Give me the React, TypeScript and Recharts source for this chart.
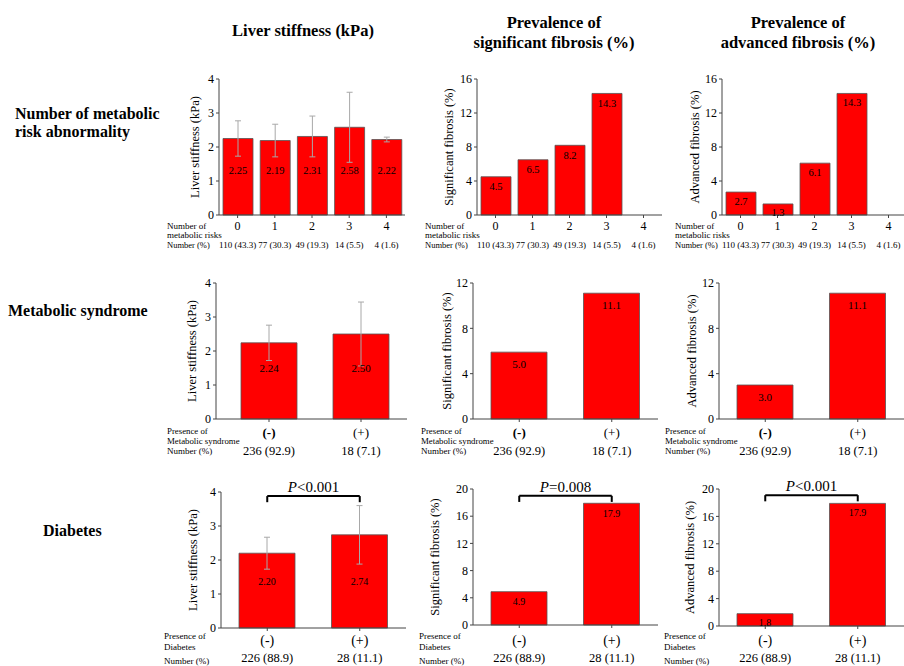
import { BarChart, Bar, XAxis, YAxis, ErrorBar, LabelList, ReferenceLine } from "recharts";

const FONT = "Liberation Serif, DejaVu Serif, Times New Roman, serif";

// Number of metabolic risk abnormality
const riskCats = ["0", "1", "2", "3", "4"];
const riskCounts = ["110 (43.3)", "77 (30.3)", "49 (19.3)", "14 (5.5)", "4 (1.6)"];
const riskStiffness = [2.25, 2.19, 2.31, 2.58, 2.22];
const riskStiffnessSd = [0.52, 0.48, 0.6, 1.03, 0.07];
const riskSigFibrosis = [4.5, 6.5, 8.2, 14.3, 0];
const riskAdvFibrosis = [2.7, 1.3, 6.1, 14.3, 0];

// Metabolic syndrome
const msCats = ["(-)", "(+)"];
const msCounts = ["236 (92.9)", "18 (7.1)"];
const msStiffness = [2.24, 2.5];
const msStiffnessSd = [0.52, 0.94];
const msSigFibrosis = [5.9, 11.1];
const msSigFibrosisText = ["5.0", "11.1"];
const msAdvFibrosis = [3.0, 11.1];

// Diabetes
const dmCats = ["(-)", "(+)"];
const dmCounts = ["226 (88.9)", "28 (11.1)"];
const dmStiffness = [2.2, 2.74];
const dmStiffnessSd = [0.47, 0.86];
const dmSigFibrosis = [4.9, 17.9];
const dmAdvFibrosis = [1.8, 17.9];
const dmPValues = ["<0.001", "=0.008", "<0.001"];

type Row = { cat: string; count: string; value: number; sd?: number; text: string };

function buildRows(cats: string[], counts: string[], values: number[], digits: number, sd?: number[], text?: string[]): Row[] {
  return cats.map((c, i) => ({
    cat: c,
    count: counts[i],
    value: values[i],
    sd: sd ? sd[i] : undefined,
    text: text ? text[i] : values[i] === 0 ? "" : values[i].toFixed(digits),
  }));
}

const YW = 60;
const MT = 30;
const XH = 48;

function CatTick(props: any) {
  const { x, y, payload, rows, catSize, countSize, catDy, countDy, boldMinus } = props;
  const row = rows.find((r: Row) => r.cat === payload.value);
  const axisY = y - 3;
  return (
    <g>
      <text x={x} y={axisY + catDy} textAnchor="middle" dominantBaseline="central" fontSize={catSize} fill="#000" fontFamily={FONT}
        fontWeight={boldMinus && payload.value === "(-)" ? "bold" : "normal"}>
        {payload.value}
      </text>
      <text x={x} y={axisY + countDy} textAnchor="middle" dominantBaseline="central" fontSize={countSize} fill="#000" fontFamily={FONT}>
        {row ? row.count : ""}
      </text>
    </g>
  );
}

type PanelProps = {
  rows: Row[];
  axisX: number;
  axisEnd: number;
  top: number;
  zero: number;
  max: number;
  ticks: number[];
  yTitle: string;
  titleGap: number;
  barSize: number;
  padLeft?: number;
  mode: "mid" | "top";
  labelGap: number;
  valueSize: number;
  catSize: number;
  countSize: number;
  catY: number;
  countY: number;
  boldMinus?: boolean;
  bracket?: { y: number; leg: number; p: string };
};

function Panel(p: PanelProps) {
  const plotH = p.zero - p.top;
  const width = p.axisEnd - p.axisX + YW + 1;
  const height = plotH + MT + XH;
  const valueLabel = (lp: any) => {
    const vb = lp.viewBox || lp;
    const r = p.rows[lp.index];
    const text = r ? r.text : String(lp.value);
    if (!text) return null;
    const ty = p.mode === "mid" ? vb.y + vb.height - p.labelGap : vb.y + p.labelGap;
    return (
      <text x={vb.x + vb.width / 2} y={ty} textAnchor="middle" dominantBaseline="central" fontSize={p.valueSize} fill="#000" fontFamily={FONT}>
        {text}
      </text>
    );
  };
  const titleX = YW - p.titleGap;
  const titleY = MT + plotH / 2;
  return (
    <div style={{ position: "absolute", left: p.axisX - YW, top: p.top - MT }}>
      <BarChart width={width} height={height} data={p.rows} margin={{ top: MT, right: 1, left: 0, bottom: 0 }} barSize={p.barSize}>
        <XAxis
          dataKey="cat"
          type="category"
          interval={0}
          height={XH}
          tickSize={3}
          tickMargin={0}
          padding={{ left: p.padLeft || 0, right: 0 }}
          axisLine={{ stroke: "#444" }}
          tickLine={{ stroke: "#444" }}
          tick={<CatTick rows={p.rows} catSize={p.catSize} countSize={p.countSize} catDy={p.catY - p.zero} countDy={p.countY - p.zero} boldMinus={p.boldMinus} />}
        />
        <YAxis
          type="number"
          domain={[0, p.max]}
          ticks={p.ticks}
          interval={0}
          width={YW}
          tickSize={3}
          tickMargin={2}
          axisLine={{ stroke: "#444" }}
          tickLine={{ stroke: "#444" }}
          tick={{ fontSize: 12, fill: "#000", fontFamily: FONT }}
          label={{
            content: () => (
              <text x={titleX} y={titleY} transform={`rotate(-90 ${titleX} ${titleY})`} textAnchor="middle" dominantBaseline="central" fontSize={12.5} fill="#000" fontFamily={FONT}>
                {p.yTitle}
              </text>
            ),
          }}
        />
        <Bar dataKey="value" fill="#FF0000" stroke="#555" strokeWidth={0.8} isAnimationActive={false}>
          {p.rows[0].sd !== undefined && <ErrorBar dataKey="sd" width={3} stroke="#a8a8a8" strokeWidth={1} />}
          <LabelList dataKey="value" content={valueLabel} />
        </Bar>
        {p.bracket && (
          <ReferenceLine
            segment={[{ x: p.rows[0].cat, y: p.bracket.y }, { x: p.rows[1].cat, y: p.bracket.y }]}
            stroke="#000"
            strokeWidth={2}
            ifOverflow="visible"
            label={{
              content: (lp: any) => {
                const vb = lp.viewBox || { x: 0, y: 0, width: 0 };
                return (
                  <text x={vb.x + vb.width / 2} y={vb.y - 9} textAnchor="middle" dominantBaseline="central" fontSize={15} fill="#000" fontFamily={FONT}>
                    <tspan fontStyle="italic">P</tspan>
                    {p.bracket!.p}
                  </text>
                );
              },
            }}
          />
        )}
        {p.bracket && (
          <ReferenceLine segment={[{ x: p.rows[0].cat, y: p.bracket.y }, { x: p.rows[0].cat, y: p.bracket.leg }]} stroke="#000" strokeWidth={2} ifOverflow="visible" />
        )}
        {p.bracket && (
          <ReferenceLine segment={[{ x: p.rows[1].cat, y: p.bracket.y }, { x: p.rows[1].cat, y: p.bracket.leg }]} stroke="#000" strokeWidth={2} ifOverflow="visible" />
        )}
      </BarChart>
    </div>
  );
}

const riskRows = {
  stiff: buildRows(riskCats, riskCounts, riskStiffness, 2, riskStiffnessSd),
  sig: buildRows(riskCats, riskCounts, riskSigFibrosis, 1),
  adv: buildRows(riskCats, riskCounts, riskAdvFibrosis, 1),
};
const msRows = {
  stiff: buildRows(msCats, msCounts, msStiffness, 2, msStiffnessSd),
  sig: buildRows(msCats, msCounts, msSigFibrosis, 1, undefined, msSigFibrosisText),
  adv: buildRows(msCats, msCounts, msAdvFibrosis, 1),
};
const dmRows = {
  stiff: buildRows(dmCats, dmCounts, dmStiffness, 2, dmStiffnessSd),
  sig: buildRows(dmCats, dmCounts, dmSigFibrosis, 1),
  adv: buildRows(dmCats, dmCounts, dmAdvFibrosis, 1),
};

const row1 = { top: 79, zero: 215, catSize: 12, countSize: 9, catY: 226, countY: 245, barSize: 30, valueSize: 10.5 };
const row2 = { top: 283, zero: 419, catSize: 13, countSize: 12.5, catY: 432, countY: 451, barSize: 56, valueSize: 11, boldMinus: true };
const row3 = { catSize: 14, countSize: 12.5, catY: 640, countY: 658, barSize: 56, valueSize: 10 };

function SideText({ x, y, lines, size, bold, gap }: { x: number; y: number; lines: string[]; size: number; bold?: boolean; gap: number }) {
  return (
    <>
      {lines.map((l, i) => (
        <text key={i} x={x} y={y + i * gap} dominantBaseline="central" fontSize={size} fontWeight={bold ? "bold" : "normal"} fill="#000" fontFamily={FONT}>
          {l}
        </text>
      ))}
    </>
  );
}

function CenterText({ x, y, lines, gap }: { x: number; y: number; lines: string[]; gap: number }) {
  return (
    <>
      {lines.map((l, i) => (
        <text key={i} x={x} y={y + i * gap} textAnchor="middle" dominantBaseline="central" fontSize={16.5} fontWeight="bold" fill="#000" fontFamily={FONT}>
          {l}
        </text>
      ))}
    </>
  );
}

export default function App() {
  return (
    <div style={{ position: "absolute", left: 0, top: 0, width: 904, height: 666, overflow: "hidden", background: "#fff", fontFamily: FONT }}>
      <Panel rows={riskRows.stiff} axisX={219} axisEnd={405} {...row1} max={4} ticks={[0, 1, 2, 3, 4]} yTitle="Liver stiffness (kPa)" titleGap={24} mode="mid" labelGap={45} />
      <Panel rows={riskRows.sig} axisX={477} axisEnd={662} {...row1} max={16} ticks={[0, 4, 8, 12, 16]} yTitle="Significant fibrosis (%)" titleGap={28} mode="top" labelGap={10} />
      <Panel rows={riskRows.adv} axisX={722} axisEnd={907} {...row1} max={16} ticks={[0, 4, 8, 12, 16]} yTitle="Advanced fibrosis (%)" titleGap={27} mode="top" labelGap={9} />

      <Panel rows={msRows.stiff} axisX={216} axisEnd={407} padLeft={7} {...row2} max={4} ticks={[0, 1, 2, 3, 4]} yTitle="Liver stiffness (kPa)" titleGap={24} mode="mid" labelGap={51} />
      <Panel rows={msRows.sig} axisX={473} axisEnd={658} {...row2} max={12} ticks={[0, 4, 8, 12]} yTitle="Significant fibrosis (%)" titleGap={26} mode="top" labelGap={12} />
      <Panel rows={msRows.adv} axisX={719} axisEnd={904} {...row2} max={12} ticks={[0, 4, 8, 12]} yTitle="Advanced fibrosis (%)" titleGap={27} mode="top" labelGap={12} />

      <Panel rows={dmRows.stiff} axisX={221} axisEnd={406} top={492} zero={628} {...row3} max={4} ticks={[0, 1, 2, 3, 4]} yTitle="Liver stiffness (kPa)" titleGap={28} mode="mid" labelGap={47} bracket={{ y: 3.88, leg: 3.7, p: dmPValues[0] }} />
      <Panel rows={dmRows.sig} axisX={473} axisEnd={658} top={489} zero={625} {...row3} max={20} ticks={[0, 4, 8, 12, 16, 20]} yTitle="Significant fibrosis (%)" titleGap={38} mode="top" labelGap={10} bracket={{ y: 19.0, leg: 18.1, p: dmPValues[1] }} />
      <Panel rows={dmRows.adv} axisX={719} axisEnd={904} top={489} zero={626} {...row3} max={20} ticks={[0, 4, 8, 12, 16, 20]} yTitle="Advanced fibrosis (%)" titleGap={29} mode="top" labelGap={9} bracket={{ y: 19.1, leg: 18.2, p: dmPValues[2] }} />

      <svg width={904} height={666} style={{ position: "absolute", left: 0, top: 0, pointerEvents: "none" }}>
        <CenterText x={303} y={30} lines={["Liver stiffness (kPa)"]} gap={0} />
        <CenterText x={554} y={22} lines={["Prevalence of", "significant fibrosis (%)"]} gap={20} />
        <CenterText x={798} y={22} lines={["Prevalence of", "advanced fibrosis (%)"]} gap={20} />

        <SideText x={15} y={113} lines={["Number of metabolic", "risk abnormality"]} size={16} bold gap={18} />
        <SideText x={8} y={310} lines={["Metabolic syndrome"]} size={16} bold gap={0} />
        <SideText x={43} y={530} lines={["Diabetes"]} size={16} bold gap={0} />

        {[167, 425, 675].map((x) => (
          <g key={x}>
            <SideText x={x} y={226} lines={["Number of", "metabolic risks"]} size={9} gap={9} />
            <SideText x={x} y={245} lines={["Number (%)"]} size={8.5} gap={0} />
          </g>
        ))}
        {[167, 421, 665].map((x) => (
          <g key={x}>
            <SideText x={x} y={431} lines={["Presence of", "Metabolic syndrome"]} size={8.8} gap={9.5} />
            <SideText x={x} y={451} lines={["Number (%)"]} size={9} gap={0} />
          </g>
        ))}
        {[164, 419, 664].map((x) => (
          <g key={x}>
            <SideText x={x} y={636} lines={["Presence of", "Diabetes"]} size={9} gap={11} />
            <SideText x={x} y={661} lines={["Number (%)"]} size={9} gap={0} />
          </g>
        ))}
      </svg>
    </div>
  );
}
